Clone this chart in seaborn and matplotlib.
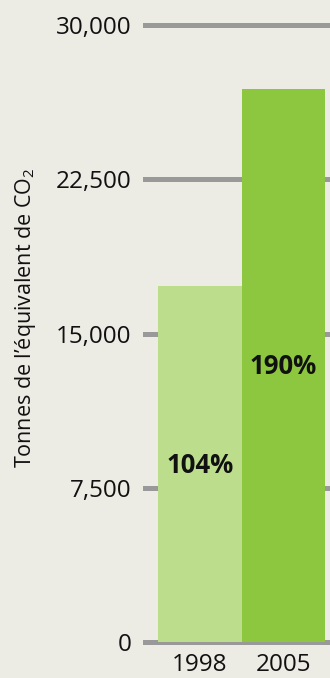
import matplotlib
matplotlib.use("Agg")
import matplotlib.pyplot as plt
import seaborn as sns
import pandas as pd

years = ["1998", "2005"]
values = [17300, 26900]
pct_labels = ["104%", "190%"]
bar_colors = ["#BCDE8C", "#8DC63F"]
yticks = [0, 7500, 15000, 22500, 30000]
ytick_labels = ["0", "7,500", "15,000", "22,500", "30,000"]
ylabel = "Tonnes de l\u2019\u00e9quivalent de CO$_2$"

sns.set_theme(style="white")
plt.rcParams['font.family'] = ['Open Sans', 'DejaVu Sans']
plt.rcParams['mathtext.fontset'] = 'custom'
plt.rcParams['mathtext.rm'] = 'Open Sans'
bg = "#ECEBE4"

df = pd.DataFrame({"year": years, "value": values})

fig = plt.figure(figsize=(3.3, 6.78), dpi=100, facecolor=bg)
ymin, ymax = -400, 30400
px_per = (642 - 25) / 30000
top_px = 25 - (ymax - 30000) * px_per
bot_px = 642 + (0 - ymin) * px_per
ax = fig.add_axes([143 / 330, 1 - bot_px / 678, (330 - 143) / 330, (bot_px - top_px) / 678])
ax.set_facecolor(bg)

sns.barplot(data=df, x="year", y="value", hue="year", palette=bar_colors,
            width=1.0, ax=ax, legend=False, saturation=1, zorder=3)
for p in ax.patches:
    p.set_edgecolor("none")

ax.set_ylim(ymin, ymax)
ax.set_xlim(-0.5 - 15 / 83, 1.5 + 5 / 83)
ax.set_yticks(yticks)
ax.set_yticklabels(ytick_labels)
ax.yaxis.grid(True, color="#999999", linewidth=3.6, zorder=0)
ax.set_axisbelow(True)
for s in ax.spines.values():
    s.set_visible(False)
ax.tick_params(axis="y", length=0, pad=8.5, labelsize=17.5, labelcolor="#111111")
ax.tick_params(axis="x", length=0, pad=2, labelsize=17.5, labelcolor="#111111")
ax.set_xlabel("")
ax.set_ylabel(ylabel, fontsize=15.5, color="#111111")
ax.yaxis.set_label_coords(-0.56, 0.525)

label_y = [8600, 13400]
for i, (t, yy) in enumerate(zip(pct_labels, label_y)):
    ax.text(i, yy, t, ha="center", va="center", fontsize=18.5,
            fontweight="bold", color="#111111", zorder=5)

fig.savefig("out.png", dpi=100, facecolor=bg)
